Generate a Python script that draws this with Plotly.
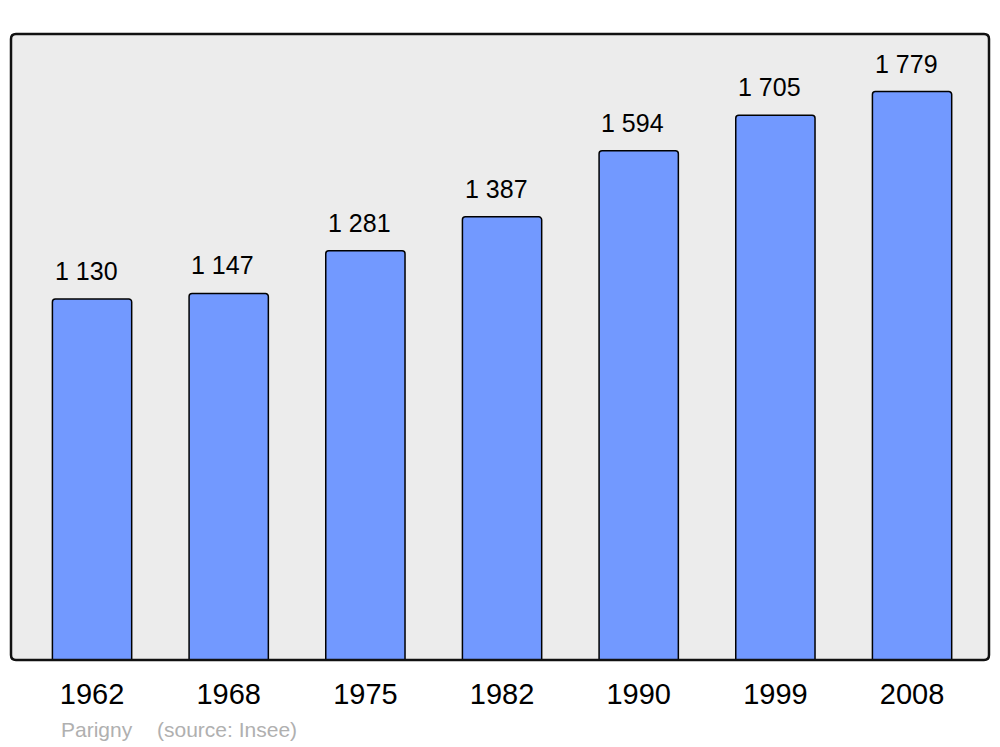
import plotly.graph_objects as go

years = ["1962", "1968", "1975", "1982", "1990", "1999", "2008"]
population = [1130, 1147, 1281, 1387, 1594, 1705, 1779]
value_labels = ["1 130", "1 147", "1 281", "1 387", "1 594", "1 705", "1 779"]
commune = "Parigny"
source = "(source: Insee)"

W, H = 1000, 747
L, R, T, B = 11, 989, 34, 660
pw, ph = R - L, B - T

xpos = list(range(len(years)))
FONT = "Liberation Sans, Arial, sans-serif"

fig = go.Figure()
fig.add_trace(go.Bar(
    x=xpos, y=population, width=0.58,
    marker=dict(color="#7299ff", line=dict(color="#000000", width=1.5), cornerradius=3),
    hoverinfo="skip",
))

for xi, v, lab in zip(xpos, population, value_labels):
    fig.add_annotation(x=xi, y=v, text=lab, showarrow=False, xanchor="center",
                       yanchor="bottom", yshift=12, xshift=-6,
                       font=dict(family=FONT, size=25, color="#000000"))

# rounded frame around plot area
r = 5
rx, ry = r / pw, r / ph
path = (f"M {rx},0 L {1-rx},0 Q 1,0 1,{ry} L 1,{1-ry} Q 1,1 {1-rx},1 "
        f"L {rx},1 Q 0,1 0,{1-ry} L 0,{ry} Q 0,0 {rx},0 Z")
fig.add_shape(type="path", path=path, xref="paper", yref="paper",
              line=dict(color="#111111", width=2.5), layer="above")

fig.add_annotation(text=commune, xref="paper", yref="paper",
                   x=(59 - L) / pw, y=-(729 - B) / ph, xanchor="left", yanchor="middle",
                   showarrow=False,
                   font=dict(family=FONT, size=21, color="#b0b0b0"))
fig.add_annotation(text=source, xref="paper", yref="paper",
                   x=(155 - L) / pw, y=-(729 - B) / ph, xanchor="left", yanchor="middle",
                   showarrow=False,
                   font=dict(family=FONT, size=21, color="#b0b0b0"))

fig.update_layout(
    width=W, height=H,
    margin=dict(l=L, r=W - R, t=T, b=H - B, pad=0),
    paper_bgcolor="#ffffff", plot_bgcolor="#ececec",
    showlegend=False,
    xaxis=dict(range=[-0.593, 6.563], tickmode="array", tickvals=xpos, ticktext=years,
               showgrid=False, zeroline=False, showline=False, ticks="",
               ticklabelstandoff=14,
               tickfont=dict(family=FONT, size=29, color="#000000")),
    yaxis=dict(range=[0, 1959], showgrid=False, zeroline=False, showline=False,
               showticklabels=False, ticks=""),
)

fig.write_html("out.html", config={"displayModeBar": False},
               post_script="document.body.style.margin='0';document.body.style.overflow='hidden';")
